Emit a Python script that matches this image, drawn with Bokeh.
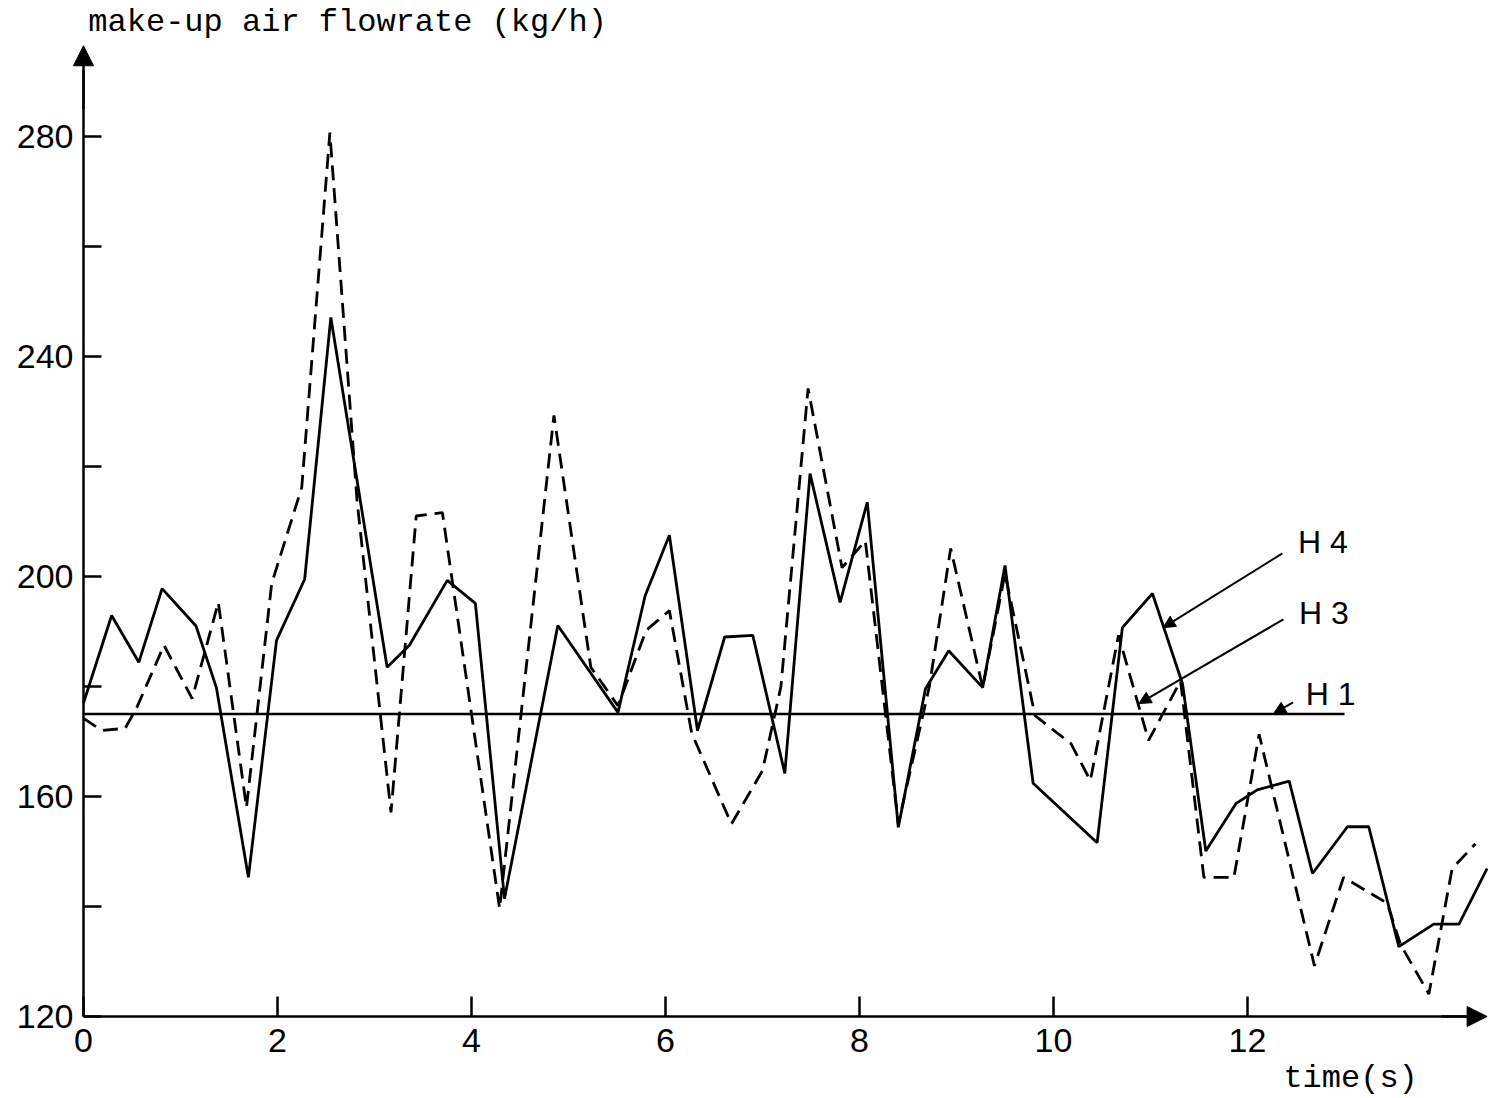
from bokeh.plotting import figure
from bokeh.models import FixedTicker, Arrow, NormalHead, Label, Range1d
from bokeh.embed import file_html
from bokeh.resources import INLINE

# ---- data ----
h4_time = [0.0, 0.29, 0.57, 0.81, 1.16, 1.37, 1.70, 1.99, 2.28, 2.55, 3.13, 3.36, 3.75, 4.04,
           4.34, 4.89, 5.51, 5.79, 6.04, 6.33, 6.61, 6.90, 7.23, 7.49, 7.80, 8.08, 8.40, 8.68,
           8.92, 9.27, 9.50, 9.79, 10.45, 10.71, 11.02, 11.33, 11.57, 11.88, 12.10, 12.43,
           12.67, 13.03, 13.25, 13.56, 13.92, 14.18, 14.47]
h4_flow = [177.0, 192.9, 184.4, 197.8, 191.0, 179.8, 145.3, 188.4, 199.5, 247.1, 183.5, 187.5,
           199.3, 195.1, 141.4, 191.1, 175.3, 196.5, 207.5, 172.0, 189.0, 189.3, 164.2, 218.7,
           195.3, 213.5, 154.4, 179.6, 186.5, 179.8, 202.0, 162.4, 151.6, 190.7, 196.9, 180.5,
           150.1, 158.7, 161.2, 162.8, 146.0, 154.5, 154.5, 132.7, 136.8, 136.8, 146.9]

h3_time = [0.0, 0.19, 0.43, 0.55, 0.83, 1.12, 1.39, 1.68, 1.94, 2.25, 2.54, 2.82, 3.17, 3.43,
           3.70, 4.29, 4.85, 5.23, 5.51, 5.80, 6.04, 6.27, 6.68, 7.00, 7.19, 7.47, 7.82, 8.06,
           8.40, 8.72, 8.94, 9.27, 9.50, 9.81, 10.18, 10.38, 10.67, 10.98, 11.31, 11.55, 11.86,
           12.12, 12.69, 12.99, 13.44, 13.58, 13.87, 14.11, 14.35]
h3_flow = [174.2, 172.0, 172.4, 176.2, 187.5, 177.8, 195.3, 158.0, 198.7, 216.2, 280.7, 213.8,
           157.1, 211.0, 211.6, 139.6, 229.3, 183.5, 176.5, 190.2, 193.8, 171.5, 155.0, 164.7,
           180.0, 234.2, 201.6, 206.5, 155.0, 180.0, 205.1, 179.8, 200.5, 174.7, 169.6, 162.9,
           189.3, 170.2, 181.0, 145.3, 145.3, 171.3, 129.2, 145.3, 140.6, 133.0, 124.1, 146.9,
           151.4]

h1_time = [0.0, 13.0]
h1_flow = [175.0, 175.0]

x_ticks = [0, 2, 4, 6, 8, 10, 12]
y_ticks = [120, 160, 200, 240, 280]
y_minor_ticks = [140, 180, 220, 260]

y_label = "make-up air flowrate (kg/h)"
x_label = "time(s)"
series_names = ["H 4", "H 3", "H 1"]

# ---- figure: frame spans the whole canvas, axes pinned at the origin ----
W, H = 1488, 1098
X0_PX, PX_PER_S = 83.0, 97.0          # pixel of t=0, pixels per second
Y0_PX, PX_PER_UNIT = 1016.0, 5.5      # pixel of 120 kg/h, pixels per kg/h

x_start = -X0_PX / PX_PER_S
x_end = (W - X0_PX) / PX_PER_S
y_end = 120 + Y0_PX / PX_PER_UNIT
y_start = 120 - (H - Y0_PX) / PX_PER_UNIT

p = figure(width=W, height=H, output_backend="svg", toolbar_location=None,
           x_range=Range1d(x_start, x_end), y_range=Range1d(y_start, y_end),
           min_border_left=0, min_border_right=0, min_border_top=0, min_border_bottom=0)
p.background_fill_color = "white"
p.border_fill_color = "white"
p.outline_line_color = None
p.xgrid.visible = False
p.ygrid.visible = False

LABEL_FONT = "Liberation Sans"

p.xaxis.fixed_location = 120
p.xaxis.ticker = FixedTicker(ticks=x_ticks)
p.xaxis.bounds = (0, 14.3)
p.xaxis.axis_line_width = 2.5
p.xaxis.axis_line_color = "black"
p.xaxis.major_tick_in = 20
p.xaxis.major_tick_out = 0
p.xaxis.major_tick_line_width = 2.5
p.xaxis.minor_tick_in = 0
p.xaxis.minor_tick_out = 0
p.xaxis.major_label_text_font = LABEL_FONT
p.xaxis.major_label_text_font_size = "34px"
p.xaxis.major_label_text_color = "black"
p.xaxis.major_label_standoff = 12

p.yaxis.fixed_location = 0
p.yaxis.ticker = FixedTicker(ticks=y_ticks, minor_ticks=y_minor_ticks)
p.yaxis.bounds = (120, 292)
p.yaxis.axis_line_width = 2.5
p.yaxis.axis_line_color = "black"
p.yaxis.major_tick_in = 18
p.yaxis.major_tick_out = 0
p.yaxis.major_tick_line_width = 2.5
p.yaxis.minor_tick_in = 18
p.yaxis.minor_tick_out = 0
p.yaxis.minor_tick_line_width = 2.5
p.yaxis.minor_tick_line_color = "black"
p.yaxis.major_label_text_font = LABEL_FONT
p.yaxis.major_label_text_font_size = "34px"
p.yaxis.major_label_text_color = "black"
p.yaxis.major_label_standoff = 10

# axis arrow heads
p.add_layout(Arrow(end=NormalHead(size=20, fill_color="black", line_color="black", line_width=1),
                   x_start=0, y_start=285, x_end=0, y_end=296.5,
                   line_width=2.5, line_color="black"))
p.add_layout(Arrow(end=NormalHead(size=20, fill_color="black", line_color="black", line_width=1),
                   x_start=14.0, y_start=120, x_end=14.47, y_end=120,
                   line_width=2.5, line_color="black"))

# ---- series ----
p.line(h1_time, h1_flow, line_color="black", line_width=2.5)
p.line(h3_time, h3_flow, line_color="black", line_width=2.8, line_dash="15 8")
p.line(h4_time, h4_flow, line_color="black", line_width=2.8)

# ---- series labels with pointer arrows ----
label_pos = [(12.52, 206.2), (12.53, 193.3), (12.6, 178.7)]
pointers = [((12.36, 204.2), (11.13, 190.7)),
            ((12.37, 192.2), (10.88, 176.9)),
            ((12.47, 177.1), (12.27, 175.1))]
for name, (lx, ly), ((x0, y0), (x1, y1)) in zip(series_names, label_pos, pointers):
    p.add_layout(Label(x=lx, y=ly, text=name, text_font=LABEL_FONT, text_font_size="32px",
                       text_baseline="middle", text_align="left", text_color="black"))
    p.add_layout(Arrow(end=NormalHead(size=12, fill_color="black", line_color="black", line_width=1),
                       x_start=x0, y_start=y0, x_end=x1, y_end=y1,
                       line_width=2, line_color="black"))

# ---- axis titles ----
p.add_layout(Label(x=0.05, y=120 + (Y0_PX - 22) / PX_PER_UNIT, text=y_label,
                   text_font="Liberation Mono", text_font_size="32px",
                   text_baseline="middle", text_align="left", text_color="black"))
p.add_layout(Label(x=12.37, y=120 - (1078 - Y0_PX) / PX_PER_UNIT, text=x_label,
                   text_font="Liberation Mono", text_font_size="32px",
                   text_baseline="middle", text_align="left", text_color="black"))

open("out.html", "w").write(file_html(p, INLINE))
